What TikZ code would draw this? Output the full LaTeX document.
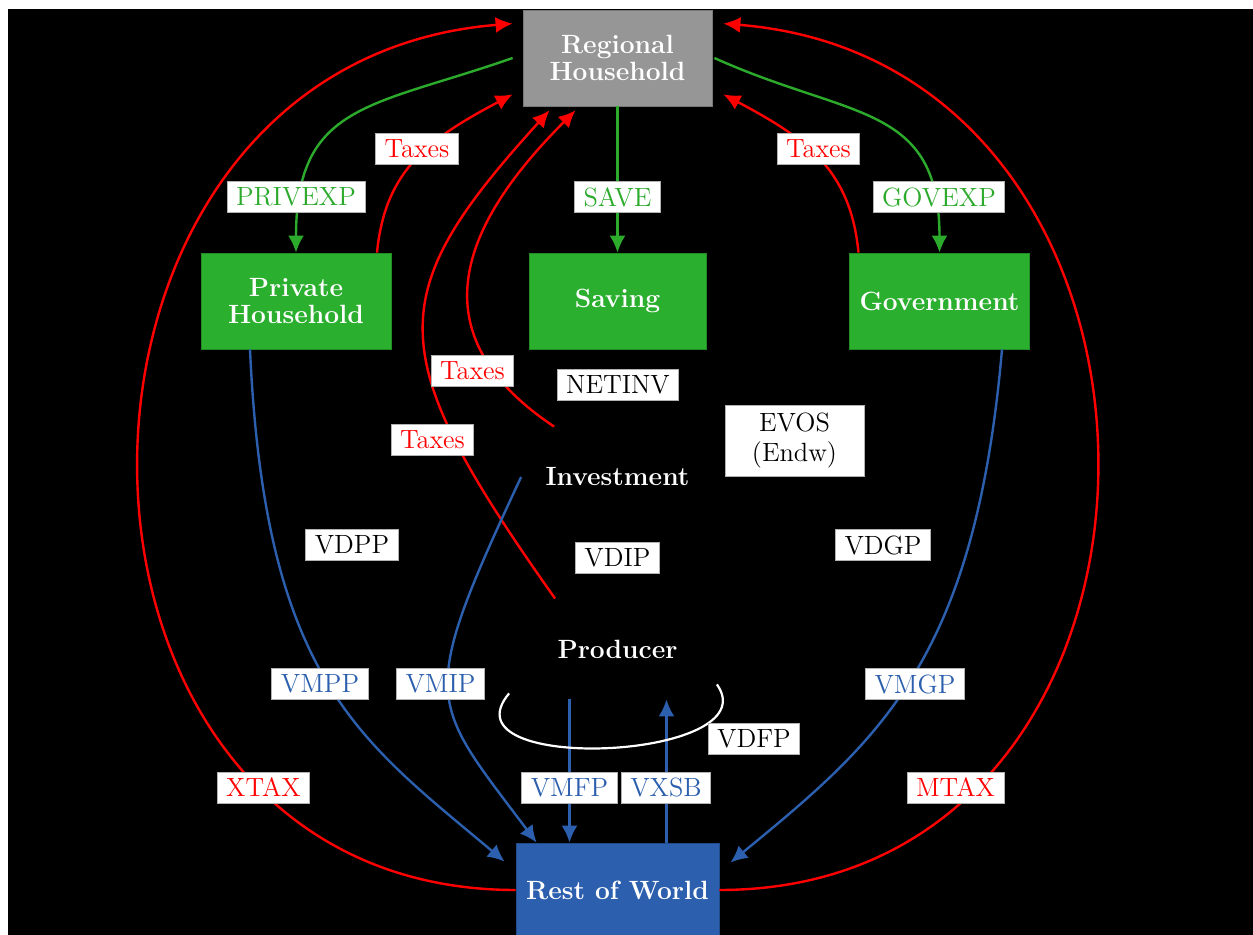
\documentclass[tikz,border=0pt]{standalone}
\usetikzlibrary{arrows.meta,calc}
\definecolor{rhgray}{RGB}{150,150,150}
\definecolor{bxgreen}{RGB}{43,175,46}
\definecolor{lngreen}{RGB}{44,170,44}
\definecolor{bxblue}{RGB}{44,95,173}
\definecolor{lnred}{RGB}{255,0,0}
\begin{document}
\begin{tikzpicture}[x=0.5pt,y=0.5pt,
  mainbox/.style={draw=#1!80!black, fill=#1, text=white, font=\fontsize{13.2}{13.5}\selectfont\bfseries, align=center, inner sep=0pt, line width=0.4pt},
  hidbox/.style={text=white, font=\fontsize{13.2}{13.5}\selectfont\bfseries, inner sep=0pt, minimum width=96pt, minimum height=50pt},
  lbl/.style={draw=gray!60, fill=white, font=\fontsize{13.2}{15}\selectfont, inner xsep=4.5pt, inner ysep=0pt, minimum height=15.5pt, line width=0.4pt, text=#1},
  flow/.style={line width=1.2pt, draw=#1, -{Latex[length=8.5pt,width=8pt]}},
  ]
\fill[white] (0,0) rectangle (1253,-935);
\fill[black] (8,-9) rectangle (1253,-935);
\useasboundingbox (0,0) rectangle (1253,-935);

% main nodes
\node[mainbox=rhgray, minimum width=94.5pt, minimum height=48pt] (rh) at (617.5,-58) {Regional\\Household};
\node[mainbox=bxgreen, minimum width=95pt, minimum height=48pt] (ph) at (296,-301) {Private\\Household};
\node[mainbox=bxgreen, minimum width=88.5pt, minimum height=48pt] (sav) at (617.5,-301) {Saving};
\node[mainbox=bxgreen, minimum width=90pt, minimum height=48pt] (gov) at (939.5,-301) {Government};
\node[mainbox=bxblue, minimum width=101.5pt, minimum height=47pt] (row) at (617.5,-890) {Rest of World};
\node[hidbox] (inv) at (617.5,-477) {Investment};
\node[hidbox] (prod) at (617.5,-649) {Producer};

% green flows
\draw[flow=lngreen] ([xshift=-5pt]rh.west) .. controls +(-141,-49.5) and +(0,150) .. (ph.north);
\draw[flow=lngreen] (rh.south) -- (sav.north);
\draw[flow=lngreen] ([xshift=1pt]rh.east) .. controls +(136,-61.5) and +(0,150) .. (gov.north);

% red flows
\draw[flow=lnred] (row.west) .. controls +(-500,0) and +(-500,-40) .. ([shift={(-5pt,-7pt)}]rh.north west);
\draw[flow=lnred] (row.east) .. controls +(500,0) and +(500,-40) .. ([shift={(5.5pt,-7pt)}]rh.north east);
\draw[flow=lnred] ([xshift=40.5pt]ph.north) .. controls +(8,83) and +(-83,-44) .. ([shift={(-5pt,6pt)}]rh.south west);
\draw[flow=lnred] ([xshift=-40.5pt]gov.north) .. controls +(-8,83) and +(83,-44) .. ([shift={(5.5pt,6pt)}]rh.south east);
\draw[flow=lnred] ([xshift=16.5pt]inv.north west) .. controls +(-141,94) and +(-112,-112) .. ([shift={(-21pt,-2pt)}]rh.south);
\draw[flow=lnred] ([xshift=17pt]prod.north west) .. controls +(-174,246) and +(-168,-185) .. ([shift={(-34pt,-2pt)}]rh.south);

% blue flows
\draw[flow=bxblue] ([xshift=-23pt]ph.south) .. controls +(15,-330) and +(-145,122) .. ([shift={(-5.5pt,-9.5pt)}]row.north west);
\draw[flow=bxblue] ([xshift=31.25pt]gov.south) .. controls +(-27,-310) and +(150,123) .. ([shift={(5.5pt,-10pt)}]row.north east);
\draw[flow=bxblue] (inv.west) .. controls +(-105,-225) and +(-108,144) .. ([xshift=10.5pt]row.north west);
\draw[flow=bxblue] ([xshift=-24pt]prod.south) -- ([xshift=-24pt]row.north);
\draw[flow=bxblue] ([xshift=24.5pt]row.north) -- ([xshift=24.5pt]prod.south);

% white loop
\draw[white, line width=1.1pt] ([shift={(-6pt,3pt)}]prod.south west) .. controls +(-69,-82) and +(54,-76) .. ([shift={(1.5pt,7.5pt)}]prod.south east);

% labels
\node[lbl=lngreen] (lprivexp) at (296,-197) {PRIVEXP};
\node[lbl=lngreen] (lsave) at (617.5,-197) {SAVE};
\node[lbl=lngreen] (lgovexp) at (939,-197) {GOVEXP};
\node[lbl=lnred] (ltax1) at (417,-149) {Taxes};
\node[lbl=lnred] (ltax2) at (818.5,-149) {Taxes};
\node[lbl=lnred] (ltax3) at (472.5,-371) {Taxes};
\node[lbl=lnred] (ltax4) at (432.5,-440) {Taxes};
\node[lbl=black] (lnetinv) at (618,-385) {NETINV};
\node[lbl=black, align=center, minimum width=69.5pt, minimum height=35.5pt] (levos) at (794.5,-440.5) {EVOS\\(Endw)};
\node[lbl=black] (lvdpp) at (352,-545) {VDPP};
\node[lbl=black] (lvdip) at (617.5,-558) {VDIP};
\node[lbl=black] (lvdgp) at (883,-545) {VDGP};
\node[lbl=bxblue] (lvmpp) at (320,-684) {VMPP};
\node[lbl=bxblue] (lvmip) at (440.5,-684) {VMIP};
\node[lbl=bxblue] (lvmgp) at (915,-684) {VMGP};
\node[lbl=black] (lvdfp) at (754,-739) {VDFP};
\node[lbl=lnred] (lxtax) at (263.5,-787.5) {XTAX};
\node[lbl=bxblue] (lvmfp) at (569.5,-787.5) {VMFP};
\node[lbl=bxblue] (lvxsb) at (666,-787.5) {VXSB};
\node[lbl=lnred] (lmtax) at (955.5,-787.5) {MTAX};
\end{tikzpicture}
\end{document}
